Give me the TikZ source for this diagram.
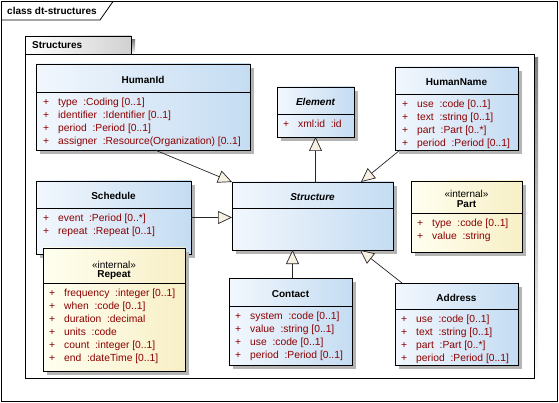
\documentclass[tikz,border=0pt]{standalone}
\usepackage{fontspec}
\setmainfont{Liberation Sans}
\usetikzlibrary{arrows.meta,shadows,calc}

\definecolor{clsleft}{HTML}{F2F7FD}
\definecolor{clsright}{HTML}{C4DCF2}
\definecolor{intleft}{HTML}{FFFFF0}
\definecolor{intright}{HTML}{F7EFC6}
\definecolor{attrred}{HTML}{8B0000}
\definecolor{genfill}{HTML}{F8F0E2}
\definecolor{shade}{HTML}{B4B4B4}

\tikzset{
  cls/.style={draw, line width=0.8pt, anchor=north west, inner sep=0pt,
    outer sep=0pt, left color=clsleft, right color=clsright,
    drop shadow={shadow xshift=4pt, shadow yshift=-4pt, fill=shade,
      opacity=1}},
  intcls/.style={cls, left color=intleft, right color=intright},
  ctitle/.style={font=\fontsize{10}{12}\selectfont\bfseries, inner sep=0pt,
    text height=7.2pt, text depth=0pt},
  stereo/.style={font=\fontsize{10}{12}\selectfont, inner sep=0pt,
    text height=7.2pt, text depth=0pt},
  attrs/.style={font=\fontsize{10.3}{13}\selectfont, text=attrred,
    align=left, anchor=north west, inner sep=0pt},
  gen/.style={draw=black!85, line width=0.7pt,
    -{Triangle[length=14pt, width=13pt, fill=genfill]}}
}
\newcommand{\attr}[2]{\makebox[15pt][l]{+}#1\ \ #2\strut}

\begin{document}
\begin{tikzpicture}[x=1pt, y=-1pt]
\useasboundingbox (0,0) rectangle (559,403);

% Cadre du diagramme
\draw[line width=0.8pt] (1.5,1.5) rectangle (557.5,401.5);
\draw[line width=0.8pt] (1.5,20) -- (100,20) -- (113,1.5);
\node[font=\fontsize{10}{12}\selectfont\bfseries, anchor=west, inner sep=0pt]
  (frame-label) at (7,11) {class dt-structures};

% Paquetage Structures
\fill[shade] (29,40) rectangle (135,54);
\fill[shade] (29,58) rectangle (538,382);
\draw[line width=0.8pt, left color=white, right color=black!18]
  (25,36) rectangle (131,54);
\draw[line width=0.8pt, fill=white] (25,54) rectangle (534,378);
\node[font=\fontsize{10}{12}\selectfont\bfseries, anchor=west, inner sep=0pt]
  (pkg-label) at (32,45) {Structures};

% HumanId
\node[cls, minimum width=214pt, minimum height=86pt] (humanid) at (36,64) {};
\draw ([yshift=-28pt]humanid.north west) -- ([yshift=-28pt]humanid.north east);
\node[ctitle] (humanid-name) at ([yshift=-15.5pt]humanid.north) {HumanId};
\node[attrs] (humanid-attr) at ([xshift=7pt, yshift=-32.2pt]humanid.north west)
  {\attr{type}{:Coding [0..1]}\\
   \attr{identifier}{:Identifier [0..1]}\\
   \attr{period}{:Period [0..1]}\\
   \attr{assigner}{:Resource(Organization) [0..1]}};

% Element
\node[cls, minimum width=77pt, minimum height=50pt] (element) at (277,87) {};
\draw ([yshift=-27pt]element.north west) -- ([yshift=-27pt]element.north east);
\node[ctitle] (element-name) at ([yshift=-15pt]element.north)
  {\itshape Element};
\node[attrs] (element-attr) at ([xshift=6pt, yshift=-31.2pt]element.north west)
  {\attr{xml:id}{:id}};

% HumanName
\node[cls, minimum width=123pt, minimum height=83pt] (humanname) at (395,67) {};
\draw ([yshift=-27pt]humanname.north west)
  -- ([yshift=-27pt]humanname.north east);
\node[ctitle] (humanname-name) at ([yshift=-15pt]humanname.north) {HumanName};
\node[attrs] (humanname-attr)
  at ([xshift=7pt, yshift=-31.2pt]humanname.north west)
  {\attr{use}{:code [0..1]}\\
   \attr{text}{:string [0..1]}\\
   \attr{part}{:Part [0..*]}\\
   \attr{period}{:Period [0..1]}};

% Schedule
\node[cls, minimum width=155pt, minimum height=73pt] (schedule) at (36,181) {};
\draw ([yshift=-27pt]schedule.north west) -- ([yshift=-27pt]schedule.north east);
\node[ctitle] (schedule-name) at ([yshift=-15pt]schedule.north) {Schedule};
\node[attrs] (schedule-attr) at ([xshift=7pt, yshift=-31.2pt]schedule.north west)
  {\attr{event}{:Period [0..*]}\\
   \attr{repeat}{:Repeat [0..1]}};

% Repeat (interne)
\node[intcls, minimum width=142pt, minimum height=123pt] (repeat) at (43,248) {};
\draw ([yshift=-35pt]repeat.north west) -- ([yshift=-35pt]repeat.north east);
\node[stereo] (repeat-stereo) at ([yshift=-16.5pt]repeat.north) {«internal»};
\node[ctitle] (repeat-name) at ([yshift=-26pt]repeat.north) {Repeat};
\node[attrs] (repeat-attr) at ([xshift=6pt, yshift=-39.2pt]repeat.north west)
  {\attr{frequency}{:integer [0..1]}\\
   \attr{when}{:code [0..1]}\\
   \attr{duration}{:decimal}\\
   \attr{units}{:code}\\
   \attr{count}{:integer [0..1]}\\
   \attr{end}{:dateTime [0..1]}};

% Structure
\node[cls, minimum width=161pt, minimum height=68pt] (structure) at (232,182) {};
\draw ([yshift=-26pt]structure.north west)
  -- ([yshift=-26pt]structure.north east);
\node[ctitle] (structure-name) at ([yshift=-14.5pt]structure.north)
  {\itshape Structure};

% Part (interne)
\node[intcls, minimum width=111pt, minimum height=71pt] (part) at (411,181) {};
\draw ([yshift=-32pt]part.north west) -- ([yshift=-32pt]part.north east);
\node[stereo] (part-stereo) at ([yshift=-13pt]part.north) {«internal»};
\node[ctitle] (part-name) at ([yshift=-22.5pt]part.north) {Part};
\node[attrs] (part-attr) at ([xshift=6pt, yshift=-36.2pt]part.north west)
  {\attr{type}{:code [0..1]}\\
   \attr{value}{:string}};

% Contact
\node[cls, minimum width=123pt, minimum height=87pt] (contact) at (229,278) {};
\draw ([yshift=-28pt]contact.north west) -- ([yshift=-28pt]contact.north east);
\node[ctitle] (contact-name) at ([yshift=-15.5pt]contact.north) {Contact};
\node[attrs] (contact-attr) at ([xshift=6pt, yshift=-32.2pt]contact.north west)
  {\attr{system}{:code [0..1]}\\
   \attr{value}{:string [0..1]}\\
   \attr{use}{:code [0..1]}\\
   \attr{period}{:Period [0..1]}};

% Address
\node[cls, minimum width=123pt, minimum height=82pt] (address) at (395,283) {};
\draw ([yshift=-26pt]address.north west) -- ([yshift=-26pt]address.north east);
\node[ctitle] (address-name) at ([yshift=-14.5pt]address.north) {Address};
\node[attrs] (address-attr) at ([xshift=6pt, yshift=-30.2pt]address.north west)
  {\attr{use}{:code [0..1]}\\
   \attr{text}{:string [0..1]}\\
   \attr{part}{:Part [0..*]}\\
   \attr{period}{:Period [0..1]}};

% Generalisations
\coordinate (contact-top) at ([xshift=2pt]contact.north);
\draw[gen] ($(humanid.south west)+(119,0)$) -- (structure.north west);
\draw[gen] (structure.north -| element.south) -- (element.south);
\draw[gen] ($(humanname.south west)+(5,0)$) -- ($(structure.north west)+(129,0)$);
\draw[gen] (schedule.east) -- (schedule.east -| structure.west);
\draw[gen] (contact-top) -- (contact-top |- structure.south);
\draw[gen] ($(address.north west)+(7,0)$) -- ($(structure.south west)+(128,0)$);

\end{tikzpicture}
\end{document}
